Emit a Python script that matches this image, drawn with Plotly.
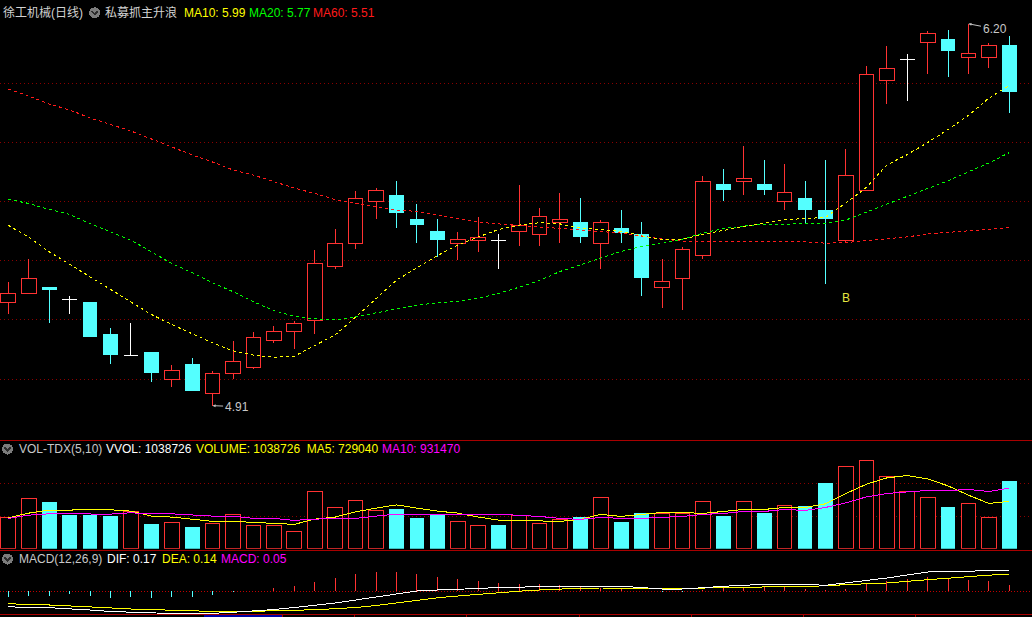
import plotly.graph_objects as go

W, H = 1032, 617

# ---------------- data ----------------
days = list(range(50))
opens = [5.258, 5.288, 5.310, 5.269, 5.260, 5.152, 5.080, 5.091, 4.999, 5.051,
         4.952, 5.018, 5.038, 5.129, 5.160, 5.197, 5.379, 5.458, 5.599, 5.622,
         5.541, 5.500, 5.458, 5.467, 5.469, 5.498, 5.488, 5.528, 5.530, 5.458,
         5.509, 5.489, 5.310, 5.340, 5.418, 5.659, 5.667, 5.659, 5.599, 5.611,
         5.571, 5.469, 5.638, 6.008, 6.080, 6.136, 6.149, 6.087, 6.087, 6.128]
highs = [5.328, 5.405, 5.310, 5.279, 5.260, 5.172, 5.189, 5.091, 5.046, 5.071,
         5.026, 5.128, 5.159, 5.178, 5.196, 5.436, 5.506, 5.635, 5.645, 5.669,
         5.591, 5.540, 5.497, 5.547, 5.490, 5.655, 5.578, 5.628, 5.611, 5.537,
         5.571, 5.530, 5.405, 5.446, 5.686, 5.709, 5.787, 5.740, 5.726, 5.668,
         5.740, 5.777, 6.057, 6.125, 6.098, 6.176, 6.179, 6.200, 6.134, 6.159]
lows = [5.221, 5.288, 5.190, 5.221, 5.143, 5.052, 5.080, 4.991, 4.972, 4.961,
        4.910, 5.001, 5.033, 5.123, 5.101, 5.153, 5.372, 5.439, 5.541, 5.511,
        5.460, 5.411, 5.402, 5.430, 5.373, 5.450, 5.450, 5.460, 5.460, 5.373,
        5.460, 5.281, 5.241, 5.233, 5.404, 5.601, 5.623, 5.623, 5.571, 5.525,
        5.322, 5.463, 5.637, 5.930, 5.939, 6.031, 6.021, 6.031, 6.052, 5.900]
closes = [5.290, 5.340, 5.302, 5.269, 5.143, 5.082, 5.080, 5.021, 5.029, 4.961,
          5.019, 5.060, 5.141, 5.162, 5.188, 5.391, 5.458, 5.610, 5.638, 5.562,
          5.520, 5.471, 5.470, 5.479, 5.469, 5.518, 5.550, 5.540, 5.481, 5.529,
          5.492, 5.342, 5.330, 5.438, 5.668, 5.639, 5.678, 5.639, 5.631, 5.572,
          5.542, 5.688, 6.030, 6.050, 6.080, 6.168, 6.109, 6.098, 6.127, 5.971]

ma10 = [5.519, 5.479, 5.430, 5.388, 5.346, 5.304, 5.262, 5.218, 5.184, 5.152,
        5.122, 5.095, 5.081, 5.073, 5.077, 5.113, 5.149, 5.209, 5.270, 5.334,
        5.375, 5.417, 5.452, 5.480, 5.505, 5.520, 5.528, 5.524, 5.510, 5.504,
        5.499, 5.484, 5.470, 5.472, 5.489, 5.502, 5.514, 5.525, 5.538, 5.542,
        5.546, 5.595, 5.647, 5.723, 5.758, 5.799, 5.843, 5.891, 5.949, 5.992]
ma20 = [5.607, 5.593, 5.573, 5.556, 5.525, 5.496, 5.469, 5.430, 5.390, 5.359,
        5.325, 5.295, 5.261, 5.231, 5.212, 5.203, 5.200, 5.210, 5.224, 5.236,
        5.250, 5.257, 5.262, 5.273, 5.289, 5.310, 5.333, 5.363, 5.386, 5.410,
        5.431, 5.448, 5.458, 5.472, 5.493, 5.508, 5.517, 5.523, 5.523, 5.524,
        5.526, 5.537, 5.564, 5.591, 5.618, 5.644, 5.670, 5.700, 5.730, 5.765]
ma60 = [5.979, 5.956, 5.929, 5.909, 5.882, 5.861, 5.838, 5.811, 5.784, 5.757,
        5.733, 5.706, 5.689, 5.666, 5.645, 5.627, 5.606, 5.593, 5.581, 5.571,
        5.566, 5.554, 5.544, 5.530, 5.524, 5.519, 5.515, 5.510, 5.503, 5.500,
        5.493, 5.483, 5.473, 5.466, 5.466, 5.466, 5.466, 5.465, 5.465, 5.463,
        5.459, 5.461, 5.468, 5.473, 5.480, 5.490, 5.495, 5.502, 5.506, 5.511]

volume = [484000, 776000, 719000, 519000, 519000, 504000, 576000, 380000, 406000, 334000,
          391000, 530000, 365000, 365000, 268000, 884000, 627000, 745000, 591000, 611000,
          473000, 519000, 422000, 365000, 365000, 519000, 391000, 457000, 488000, 792000,
          411000, 550000, 545000, 545000, 730000, 504000, 730000, 550000, 668000, 658000,
          1012000, 1269000, 1361000, 1115000, 884000, 792000, 642000, 699000, 484000, 1038726]
vol_dir = [1, 1, -1, -1, -1, -1, 1, -1, 1, -1,
           1, 1, 1, 1, 1, 1, 1, 1, 1, -1,
           -1, -1, 1, 1, -1, 1, 1, 1, -1, 1,
           -1, -1, 1, 1, 1, -1, 1, -1, 1, -1,
           -1, 1, 1, 1, 1, 1, -1, 1, 1, -1]
vol_ma5 = [476000, 548000, 594000, 599000, 599000, 599000, 579000, 502000, 487000, 456000,
           421000, 421000, 410000, 390000, 375000, 456000, 487000, 568000, 625000, 675000,
           625000, 579000, 548000, 487000, 441000, 436000, 421000, 421000, 451000, 528000,
           497000, 528000, 559000, 559000, 543000, 574000, 605000, 605000, 635000, 635000,
           691000, 850000, 993000, 1090000, 1127000, 1075000, 967000, 824000, 697000, 729040]
vol_ma10 = [467000, 517000, 537000, 537000, 537000, 533000, 553000, 537000, 537000, 517000,
            502000, 502000, 467000, 467000, 436000, 456000, 467000, 467000, 502000, 533000,
            533000, 533000, 533000, 533000, 533000, 513000, 497000, 467000, 451000, 482000,
            467000, 467000, 482000, 497000, 528000, 543000, 574000, 574000, 605000, 589000,
            635000, 706000, 798000, 850000, 875000, 896000, 896000, 912000, 881000, 931470]

dif = [-0.1335, -0.142, -0.142, -0.1488, -0.1616, -0.1743, -0.1811, -0.1896, -0.1913, -0.1913,
       -0.1896, -0.1811, -0.1701, -0.1573, -0.1403, -0.1233, -0.102, -0.0765, -0.051, -0.0213,
       0.0, 0.0085, 0.0128, 0.0213, 0.0298, 0.0315, 0.04, 0.04, 0.04, 0.04,
       0.04, 0.0298, 0.017, 0.017, 0.0315, 0.04, 0.0485, 0.057, 0.057, 0.057,
       0.0485, 0.068, 0.0893, 0.1105, 0.136, 0.1616, 0.1675, 0.1675, 0.176, 0.17]
dea = [-0.1063, -0.1173, -0.1190, -0.1293, -0.1361, -0.1437, -0.1531, -0.1599, -0.1659, -0.1684,
       -0.1735, -0.1786, -0.1728, -0.1709, -0.1633, -0.1599, -0.1531, -0.1403, -0.1233, -0.1020,
       -0.0765, -0.0578, -0.0425, -0.0272, -0.0145, -0.0017, 0.0085, 0.0170, 0.0238, 0.0255,
       0.0264, 0.0255, 0.0221, 0.0221, 0.0255, 0.0264, 0.0323, 0.0366, 0.0408, 0.0442,
       0.0434, 0.0544, 0.0595, 0.0680, 0.0825, 0.0969, 0.1114, 0.1250, 0.1352, 0.1403]
macd = [-0.051, -0.040, -0.040, -0.028, -0.040, -0.057, -0.051, -0.057, -0.051, -0.051,
        -0.034, -0.0085, -0.002, 0.028, 0.045, 0.079, 0.113, 0.147, 0.164, 0.164,
        0.147, 0.119, 0.102, 0.085, 0.068, 0.060, 0.060, 0.048, 0.034, 0.026,
        0.023, 0.004, -0.0085, -0.0085, 0.0085, 0.026, 0.034, 0.034, 0.037, 0.017,
        0.0085, 0.017, 0.060, 0.085, 0.102, 0.119, 0.108, 0.094, 0.085, 0.051]

price_grid = [5.0, 5.2, 5.4, 5.6, 5.8, 6.0]
vol_grid = [500000, 1000000]
signal_day, signal_price = 41, 5.274

# ---------------- style ----------------
RED = '#ff3232'
CYAN = '#54ffff'
WHITE = '#ffffff'
YEL = '#ffff00'
GRN = '#00ff00'
MA60C = '#ff1a1a'
MAG = '#ff00ff'
GRID = '#8a0000'
SEP = '#a80000'
FONT = 'Liberation Sans, Arial, Noto Sans CJK SC, sans-serif'
BW = 0.72


def fy(py):
    return 1 - py / H


def fx(px):
    return px / W


n = len(days)
up = [i for i in days if closes[i] > opens[i]]
dn = [i for i in days if closes[i] < opens[i]]
dj = [i for i in days if closes[i] == opens[i]]

fig = go.Figure()


def segs(pairs):
    xs, ys = [], []
    for (x0, y0, x1, y1) in pairs:
        xs += [x0, x1, None]
        ys += [y0, y1, None]
    return xs, ys


# candle bodies
fig.add_trace(go.Bar(x=[days[i] for i in up], y=[closes[i] - opens[i] for i in up],
                     base=[opens[i] for i in up], width=BW,
                     marker=dict(color='rgba(0,0,0,1)', line=dict(color=RED, width=1)),
                     yaxis='y', hoverinfo='skip'))
fig.add_trace(go.Bar(x=[days[i] for i in dn], y=[opens[i] - closes[i] for i in dn],
                     base=[closes[i] for i in dn], width=BW,
                     marker=dict(color=CYAN, line=dict(width=0)),
                     yaxis='y', hoverinfo='skip'))

# wicks
for idx, col in ((up, RED), (dn, CYAN)):
    pairs = []
    for i in idx:
        top = max(opens[i], closes[i])
        bot = min(opens[i], closes[i])
        if highs[i] > top:
            pairs.append((days[i], highs[i], days[i], top))
        if lows[i] < bot:
            pairs.append((days[i], bot, days[i], lows[i]))
    xs, ys = segs(pairs)
    fig.add_trace(go.Scatter(x=xs, y=ys, mode='lines', line=dict(color=col, width=1),
                             yaxis='y', hoverinfo='skip'))
pairs = []
for i in dj:
    pairs.append((days[i], highs[i], days[i], lows[i]))
    pairs.append((days[i] - BW / 2, opens[i], days[i] + BW / 2, opens[i]))
xs, ys = segs(pairs)
fig.add_trace(go.Scatter(x=xs, y=ys, mode='lines', line=dict(color=WHITE, width=1),
                         yaxis='y', hoverinfo='skip'))

# moving averages
for arr, col in ((ma60, MA60C), (ma20, GRN), (ma10, YEL)):
    fig.add_trace(go.Scatter(x=days, y=arr, mode='lines',
                             line=dict(color=col, width=1, dash='3px,3px'),
                             yaxis='y', hoverinfo='skip'))

# volume
vu = [i for i in days if vol_dir[i] > 0]
vd = [i for i in days if vol_dir[i] < 0]
fig.add_trace(go.Bar(x=[days[i] for i in vu], y=[volume[i] for i in vu], width=BW,
                     marker=dict(color='rgba(0,0,0,1)', line=dict(color=RED, width=1)),
                     yaxis='y2', hoverinfo='skip'))
fig.add_trace(go.Bar(x=[days[i] for i in vd], y=[volume[i] for i in vd], width=BW,
                     marker=dict(color=CYAN, line=dict(width=0)),
                     yaxis='y2', hoverinfo='skip'))
fig.add_trace(go.Scatter(x=days, y=vol_ma5, mode='lines', line=dict(color=YEL, width=1),
                         yaxis='y2', hoverinfo='skip'))
fig.add_trace(go.Scatter(x=days, y=vol_ma10, mode='lines', line=dict(color=MAG, width=1),
                         yaxis='y2', hoverinfo='skip'))

# MACD
for sign, col in ((1, RED), (-1, CYAN)):
    pairs = [(days[i], 0, days[i], macd[i]) for i in days if macd[i] * sign > 0]
    xs, ys = segs(pairs)
    fig.add_trace(go.Scatter(x=xs, y=ys, mode='lines', line=dict(color=col, width=1),
                             yaxis='y3', hoverinfo='skip'))
fig.add_trace(go.Scatter(x=days, y=dea, mode='lines', line=dict(color=YEL, width=1),
                         yaxis='y3', hoverinfo='skip'))
fig.add_trace(go.Scatter(x=days, y=dif, mode='lines', line=dict(color=WHITE, width=1),
                         yaxis='y3', hoverinfo='skip'))

# ---------------- axes ----------------
XMIN = -8.3 / 20.43
XMAX = XMIN + W / 20.43
PPU = 296.0  # pixels per price unit


def price_at(py):
    return 6.0 - (py - 83) / PPU


VPP = 15400.0
MPP = 117.6

shapes = []
for g in price_grid:
    shapes.append(dict(type='line', xref='paper', yref='y', x0=0, x1=1, y0=g, y1=g,
                       line=dict(color=GRID, width=1, dash='1px,3px'), layer='below'))
for g in vol_grid:
    shapes.append(dict(type='line', xref='paper', yref='y2', x0=0, x1=1, y0=g, y1=g,
                       line=dict(color=GRID, width=1, dash='1px,3px'), layer='below'))
shapes.append(dict(type='line', xref='paper', yref='y3', x0=0, x1=1, y0=0, y1=0,
                   line=dict(color='#c00000', width=1, dash='1px,2px'), layer='below'))
for py in (440.5, 550.5, 614.5):
    shapes.append(dict(type='line', xref='paper', yref='paper', x0=0, x1=1,
                       y0=fy(py), y1=fy(py), line=dict(color=SEP, width=1)))
# bottom time ruler decorations
shapes.append(dict(type='rect', xref='paper', yref='paper', x0=fx(204), x1=fx(282),
                   y0=fy(617), y1=fy(615), fillcolor='#0000a8', line=dict(width=0)))
for tx in (282, 354, 466, 579, 691, 803, 915):
    shapes.append(dict(type='line', xref='paper', yref='paper', x0=fx(tx + 0.5), x1=fx(tx + 0.5),
                       y0=fy(614), y1=fy(617), line=dict(color=SEP, width=1)))

# header icons
for cx, cy in ((94.7, 12.8), (7.5, 449), (7.5, 559)):
    shapes.append(dict(type='circle', xref='paper', yref='paper',
                       x0=fx(cx - 5.5), x1=fx(cx + 5.5), y0=fy(cy + 5.5), y1=fy(cy - 5.5),
                       fillcolor='#7c7c7c', line=dict(width=0)))
    shapes.append(dict(type='path', xref='paper', yref='paper',
                       path='M %f,%f L %f,%f L %f,%f' % (fx(cx - 3), fy(cy - 1.5), fx(cx), fy(cy + 1.5),
                                                         fx(cx + 3), fy(cy - 1.5)),
                       line=dict(color='#2c2c2c', width=1.5)))

ann = []


def label(px, py, text, color, size=12):
    ann.append(dict(xref='paper', yref='paper', x=fx(px - 1), y=fy(py), text=text,
                    showarrow=False, xanchor='left', yanchor='middle',
                    font=dict(family=FONT, size=size, color=color)))


label(2, 12.5, '徐工机械(日线)', '#d2d2d2')
label(104, 12.5, '私募抓主升浪', '#d2d2d2')
label(182.5, 12.5, 'MA10: 5.99', YEL)
label(248, 12.5, 'MA20: 5.77', GRN)
label(311.5, 12.5, 'MA60: 5.51', MA60C)

label(18, 448.5, 'VOL-TDX(5,10)', '#c8c8c8')
label(105, 448.5, 'VVOL: 1038726', WHITE)
label(195, 448.5, 'VOLUME: 1038726  MA5: 729040', YEL)
label(381, 448.5, 'MA10: 931470', MAG)

label(18, 559, 'MACD(12,26,9)', '#c8c8c8')
label(106, 559, 'DIF: 0.17', WHITE)
label(161, 559, 'DEA: 0.14', YEL)
label(219.5, 559, 'MACD: 0.05', MAG)

# extreme markers
imin = lows.index(min(lows))
imax = highs.index(max(highs))
ann.append(dict(xref='x', yref='y', x=days[imin], y=lows[imin], text='%.2f' % lows[imin],
                showarrow=True, ax=24, ay=1, xanchor='center', yanchor='middle',
                arrowhead=2, arrowsize=0.6, arrowwidth=1, arrowcolor='#c0c0c0',
                font=dict(family=FONT, size=12, color='#c8c8c8')))
ann.append(dict(xref='x', yref='y', x=days[imax], y=highs[imax], text='%.2f' % highs[imax],
                showarrow=True, ax=26, ay=5, xanchor='center', yanchor='middle',
                arrowhead=2, arrowsize=0.6, arrowwidth=1, arrowcolor='#c0c0c0',
                font=dict(family=FONT, size=12, color='#c8c8c8')))
ann.append(dict(xref='x', yref='y', x=signal_day, y=signal_price, text='B', showarrow=False,
                xanchor='center', yanchor='middle',
                font=dict(family=FONT, size=12, color='#e6e640')))

fig.update_layout(
    width=W, height=H, margin=dict(l=0, r=0, t=0, b=0, pad=0),
    paper_bgcolor='black', plot_bgcolor='black', showlegend=False,
    barmode='overlay',
    xaxis=dict(range=[XMIN, XMAX], visible=False, fixedrange=True),
    yaxis=dict(domain=[fy(437), fy(20)], range=[price_at(437), price_at(20)],
               visible=False, fixedrange=True),
    yaxis2=dict(domain=[fy(548.7), fy(441)], range=[0, (548.7 - 441) * VPP],
                visible=False, fixedrange=True, anchor='x'),
    yaxis3=dict(domain=[fy(614), fy(552)], range=[-(614 - 591) / MPP, (591 - 552) / MPP],
                visible=False, fixedrange=True, anchor='x'),
    shapes=shapes, annotations=ann,
)

crisp = ("document.body.style.margin='0';document.body.style.overflow='hidden';"
         "document.querySelectorAll('.main-svg .cartesianlayer path, .main-svg .shapelayer path')"
         ".forEach(function(p){p.style.shapeRendering='crispEdges';});")
fig.write_html("out.html", config={'displayModeBar': False, 'staticPlot': True},
               post_script=crisp)
